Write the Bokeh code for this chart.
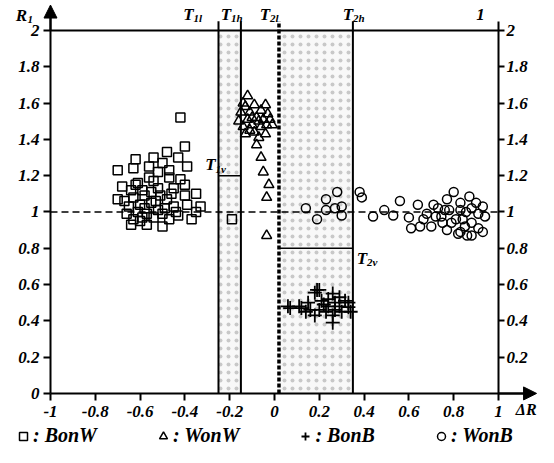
from bokeh.plotting import figure
from bokeh.models import (Range1d, LinearAxis, FixedTicker, Arrow, NormalHead,
                          Legend, LegendItem)
from bokeh.core.properties import value
from bokeh.embed import file_html
from bokeh.resources import INLINE

# ---------------- data ----------------
bonw_x = [-0.42, -0.40, -0.48, -0.62, -0.54, -0.43, -0.50, -0.70, -0.63, -0.56,
          -0.39, -0.47, -0.52, -0.56, -0.68, -0.61, -0.54, -0.47, -0.42, -0.64,
          -0.59, -0.52, -0.45, -0.40, -0.35, -0.67, -0.63, -0.58, -0.51, -0.48,
          -0.40, -0.39, -0.33, -0.65, -0.60, -0.55, -0.45, -0.66, -0.61, -0.57,
          -0.52, -0.44, -0.35, -0.63, -0.59, -0.54, -0.47, -0.37, -0.64, -0.57,
          -0.50, -0.43, -0.49, -0.55, -0.70, -0.60, -0.53, -0.46, -0.58, -0.50,
          -0.62, -0.19]
bonw_y = [1.52, 1.36, 1.33, 1.29, 1.30, 1.30, 1.27, 1.23, 1.24, 1.25,
          1.25, 1.23, 1.22, 1.19, 1.14, 1.16, 1.17, 1.19, 1.18, 1.12,
          1.12, 1.13, 1.13, 1.15, 1.10, 1.06, 1.08, 1.09, 1.09, 1.07,
          1.09, 1.04, 1.03, 1.03, 1.04, 1.05, 1.03, 0.99, 1.00, 0.99,
          1.01, 1.00, 1.00, 0.96, 0.97, 0.97, 0.96, 0.96, 0.93, 0.93,
          0.92, 0.98, 1.02, 1.11, 1.07, 0.95, 1.06, 1.10, 1.02, 0.99,
          1.15, 0.96]

wonw_x = [-0.12, -0.14, -0.09, -0.04, -0.15, -0.11, -0.06, -0.03, -0.16, -0.12,
          -0.08, -0.05, -0.01, -0.14, -0.10, -0.06, -0.035, -0.13, -0.09, -0.04,
          -0.07, -0.08, -0.06, -0.05, -0.025, -0.035, -0.035, -0.13, -0.10, -0.07,
          -0.11, -0.02]
wonw_y = [1.64, 1.60, 1.59, 1.59, 1.55, 1.55, 1.56, 1.54, 1.50, 1.51,
          1.52, 1.51, 1.48, 1.47, 1.48, 1.47, 1.48, 1.43, 1.44, 1.43,
          1.41, 1.37, 1.30, 1.22, 1.15, 1.08, 0.87, 1.58, 1.52, 1.50,
          1.45, 1.51]

bonb_x = [0.07, 0.06, 0.11, 0.15, 0.18, 0.20, 0.26, 0.29, 0.315, 0.24,
          0.27, 0.30, 0.23, 0.26, 0.20, 0.16, 0.14, 0.21, 0.24, 0.27,
          0.33, 0.18, 0.34, 0.19, 0.33, 0.26, 0.22, 0.29, 0.12]
bonb_y = [0.47, 0.48, 0.48, 0.50, 0.555, 0.57, 0.55, 0.53, 0.51, 0.48,
          0.46, 0.45, 0.45, 0.39, 0.46, 0.46, 0.45, 0.51, 0.52, 0.50,
          0.475, 0.43, 0.45, 0.57, 0.50, 0.43, 0.49, 0.48, 0.47]

wonb_x = [0.14, 0.19, 0.23, 0.23, 0.27, 0.28, 0.30, 0.30, 0.38, 0.39,
          0.44, 0.49, 0.53, 0.56, 0.60, 0.61, 0.64, 0.65, 0.68, 0.70,
          0.71, 0.73, 0.745, 0.77, 0.77, 0.78, 0.80, 0.81, 0.83, 0.83,
          0.855, 0.87, 0.88, 0.88, 0.90, 0.91, 0.91, 0.93, 0.93, 0.94,
          0.84, 0.75, 0.79, 0.85, 0.88, 0.83, 0.76, 0.72, 0.665, 0.86,
          0.82]
wonb_y = [1.02, 0.96, 1.07, 1.01, 1.02, 1.11, 1.03, 0.98, 1.11, 1.08,
          0.975, 1.01, 0.98, 1.06, 0.97, 0.91, 1.04, 0.92, 0.99, 0.92,
          1.04, 1.02, 0.975, 1.07, 0.90, 1.01, 1.11, 0.96, 1.05, 0.89,
          1.00, 1.085, 0.94, 0.87, 1.05, 0.99, 0.91, 1.03, 0.89, 0.975,
          0.96, 0.94, 0.94, 0.92, 1.02, 1.01, 1.01, 0.975, 0.96, 0.87,
          0.88]

# thresholds
T1L, T1H, T2L, T2H = -0.25, -0.15, 0.02, 0.35
T1V, T2V = 1.2, 0.8
R_TOP = 2.0
R_REF = 1.0

x_ticks = [-1, -0.8, -0.6, -0.4, -0.2, 0, 0.2, 0.4, 0.6, 0.8, 1]
x_tick_labels = ["-1", "-0.8", "-0.6", "-0.4", "-0.2", "0", "0.2", "0.4", "0.6", "0.8", "1"]
y_ticks = [0, 0.2, 0.4, 0.6, 0.8, 1, 1.2, 1.4, 1.6, 1.8, 2]
y_tick_labels = ["0", "0.2", "0.4", "0.6", "0.8", "1", "1.2", "1.4", "1.6", "1.8", "2"]

top_sub = ["1l", "1h", "2l", "2h"]
legend_labels = [": BonW", ": WonW", ": BonB", ": WonB"]

FONT = "Liberation Serif"
FSTYLE = "bold italic"

# ---------------- figure ----------------
p = figure(width=538, height=447, x_range=Range1d(-1.2232, 1.1786),
           y_range=Range1d(-0.298, 2.165), output_backend="svg",
           toolbar_location=None, x_axis_location=None, y_axis_location=None,
           min_border=0)
p.outline_line_color = None
p.grid.visible = False


def style_axis(ax, ticks, labels):
    ax.ticker = FixedTicker(ticks=ticks)
    ax.major_label_overrides = {t: l for t, l in zip(ticks, labels)}
    ax.minor_tick_line_color = None
    ax.major_tick_in = 0
    ax.major_tick_out = 7
    ax.axis_line_width = 2
    ax.major_tick_line_width = 2
    ax.major_label_standoff = 4
    ax.major_label_text_font = FONT
    ax.major_label_text_font_style = FSTYLE
    ax.major_label_text_font_size = "17px"
    ax.major_label_text_color = "black"


left_ax = LinearAxis(fixed_location=-1, bounds=(0, 2.1))
style_axis(left_ax, y_ticks, y_tick_labels)
p.add_layout(left_ax, "left")

bottom_ax = LinearAxis(fixed_location=0, bounds=(-1, 1.12))
style_axis(bottom_ax, x_ticks, x_tick_labels)
bottom_ax.major_label_standoff = 6
p.add_layout(bottom_ax, "below")

right_ax = LinearAxis(fixed_location=1, bounds=(0, 2.05))
style_axis(right_ax, y_ticks[1:], y_tick_labels[1:])
right_ax.major_tick_out = 6
right_ax.major_label_standoff = 2
p.add_layout(right_ax, "right")

# arrows on the axes
p.add_layout(Arrow(end=NormalHead(size=13, fill_color="black", line_color="black"),
                   x_start=-1, y_start=2.0, x_end=-1, y_end=2.14, line_width=2))
p.add_layout(Arrow(end=NormalHead(size=13, fill_color="black", line_color="black"),
                   x_start=1.0, y_start=0, x_end=1.17, y_end=0, line_width=2))

# shaded bands
p.quad(left=[T1L, T2L], right=[T1H, T2H], bottom=[0, 0], top=[R_TOP, R_TOP],
       fill_color="#f8f8f8", line_color=None, hatch_pattern="dot",
       hatch_color="#a8a8a8", hatch_scale=8, hatch_weight=1, hatch_alpha=0.6)

# frame / threshold lines
p.segment(x0=[-1], y0=[R_TOP], x1=[1], y1=[R_TOP], line_color="black", line_width=2)
p.segment(x0=[-1], y0=[R_REF], x1=[1], y1=[R_REF], line_color="black",
          line_width=1.5, line_dash="7 4")
p.segment(x0=[T1L, T1H, T2H], y0=[0, 0, 0], x1=[T1L, T1H, T2H], y1=[2.05, 2.05, 2.05],
          line_color="black", line_width=2)
p.segment(x0=[T2L], y0=[0], x1=[T2L], y1=[2.05], line_color="black",
          line_width=3.5, line_dash="4 2")
p.segment(x0=[T1L, T2L], y0=[T1V, T2V], x1=[T1H, T2H], y1=[T1V, T2V],
          line_color="black", line_width=1.5)

# data markers
r_bonw = p.scatter(bonw_x, bonw_y, marker="square", size=9, fill_color=None,
                   line_color="black", line_width=1.5)
r_wonw = p.scatter(wonw_x, wonw_y, marker="triangle", size=10, fill_color=None,
                   line_color="black", line_width=1.5)
r_bonb = p.scatter(bonb_x, bonb_y, marker="cross", size=14, fill_color=None,
                   line_color="black", line_width=1.8)
r_wonb = p.scatter(wonb_x, wonb_y, marker="circle", size=9, fill_color=None,
                   line_color="black", line_width=1.5)

# text labels
txt = dict(text_font=value(FONT), text_font_style=FSTYLE, text_color="black",
           text_baseline="middle")
top_x = [T1L, T1H, T2L, T2H]
top_off = [-30, -15, -14, -5]
TOP_Y = 2.088
p.text(x=top_x, y=[TOP_Y] * 4, text=["T"] * 4, x_offset=top_off, text_align="center",
       text_font_size="17px", **txt)
p.text(x=top_x, y=[TOP_Y] * 4, text=top_sub, x_offset=[o + 5 for o in top_off],
       y_offset=4, text_align="left", text_font_size="11px", **txt)
p.text(x=[0.92], y=[TOP_Y], text=["1"], text_align="center", text_font_size="17px", **txt)

p.text(x=[T1L], y=[T1V], text=["T"], x_offset=-8, y_offset=-11, text_align="center",
       text_font_size="17px", **txt)
p.text(x=[T1L], y=[T1V], text=["1v"], x_offset=-3, y_offset=-7, text_align="left",
       text_font_size="11px", **txt)
p.text(x=[T2H], y=[T2V], text=["T"], x_offset=9, y_offset=10, text_align="center",
       text_font_size="17px", **txt)
p.text(x=[T2H], y=[T2V], text=["2v"], x_offset=14, y_offset=14, text_align="left",
       text_font_size="11px", **txt)

p.text(x=[-1], y=[2.08], text=["R"], x_offset=-29, text_align="center",
       text_font_size="17px", **txt)
p.text(x=[-1], y=[2.08], text=["1"], x_offset=-23, y_offset=4, text_align="left",
       text_font_size="11px", **txt)
p.text(x=[1.17], y=[-0.09], text=["\u0394R"], text_align="right",
       text_font_size="16px", **txt)

# legend
legend = Legend(items=[LegendItem(label=l, renderers=[r]) for l, r in
                       zip(legend_labels, [r_bonw, r_wonw, r_bonb, r_wonb])],
                orientation="horizontal", location=(13, 0), spacing=56,
                padding=0, margin=0, glyph_width=20, glyph_height=20,
                label_standoff=0, label_height=20,
                label_text_font=FONT, label_text_font_style=FSTYLE,
                label_text_font_size="20px", label_text_color="black",
                border_line_color=None, background_fill_alpha=0)
p.add_layout(legend)

open("out.html", "w").write(file_html(p, INLINE))
